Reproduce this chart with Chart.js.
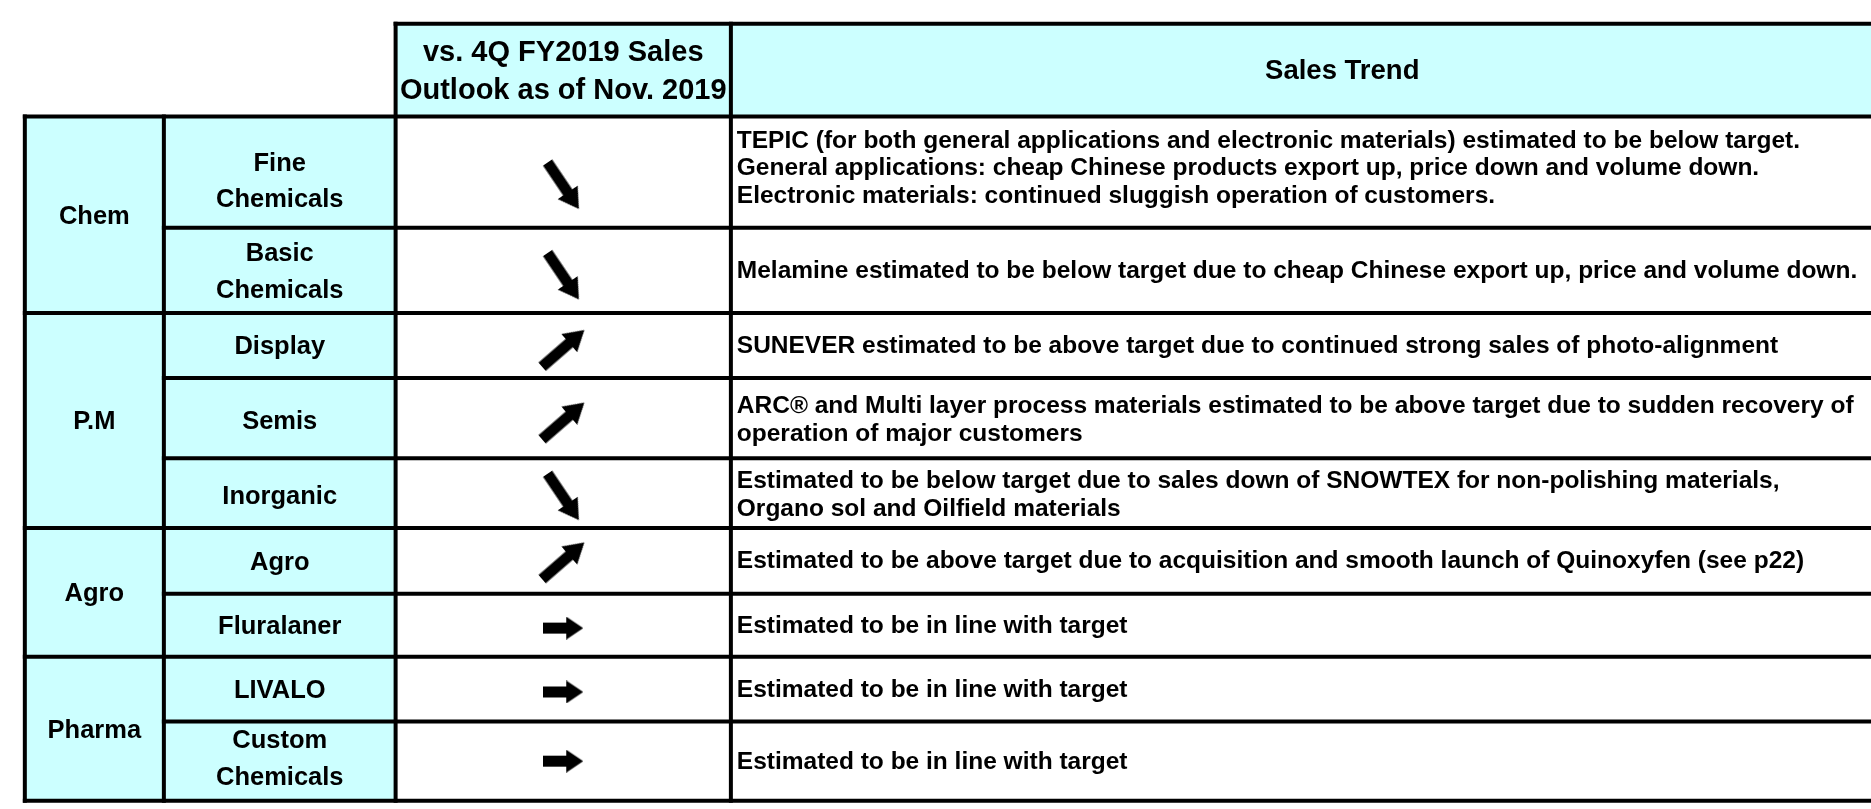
<!DOCTYPE html>
<html><head><meta charset="utf-8">
<script src="https://cdn.jsdelivr.net/npm/chart.js@4.4.0/dist/chart.umd.min.js"></script>
<style>html,body{margin:0;padding:0;background:#fff;overflow:hidden}canvas{display:block}</style>
</head><body>
<canvas id="c" width="1871" height="809"></canvas>
<script>
// ---------------- data ----------------
const groups = ['Chem', 'P.M', 'Agro', 'Pharma'];
const groupSizes = [2, 3, 2, 2];
const segments = ['Fine\nChemicals', 'Basic\nChemicals', 'Display', 'Semis', 'Inorganic', 'Agro', 'Fluralaner', 'LIVALO', 'Custom\nChemicals'];
const outlook = ['down', 'down', 'up', 'up', 'down', 'up', 'flat', 'flat', 'flat'];
const trendText = [
  'TEPIC (for both general applications and electronic materials) estimated to be below target.\nGeneral applications: cheap Chinese products export up, price down and volume down.\nElectronic materials: continued sluggish operation of customers.',
  'Melamine estimated to be below target due to cheap Chinese export up, price and volume down.',
  'SUNEVER estimated to be above target due to continued strong sales of photo-alignment',
  'ARC\u00AE and Multi layer process materials estimated to be above target due to sudden recovery of\noperation of major customers',
  'Estimated to be below target due to sales down of SNOWTEX for non-polishing materials,\nOrgano sol and Oilfield materials',
  'Estimated to be above target due to acquisition and smooth launch of Quinoxyfen (see p22)',
  'Estimated to be in line with target',
  'Estimated to be in line with target',
  'Estimated to be in line with target'
];
const headerOutlook = 'vs. 4Q FY2019 Sales\nOutlook as of Nov. 2019';
const headerTrend = 'Sales Trend';

// ---------------- layout (positions / styles) ----------------
const W = 1871, H = 809;
const colEdges = [12, 153, 388, 728, 1968];
const headerTop = 11;
const rowEdges = [107, 222, 310, 377, 460, 532, 600, 665, 732, 814];
const arrowNudge = [14, 6, 3, 3, 4, 0, 3, 3, 0];
const labelNudge = [8, 0, 0, 2, 2, 0, 0, 0, -4];
const textNudge = [-4, 1, 1, 2, 2, 0, 1, 1, 1];
const CYAN = '#CCFFFF';
const FONT = '"Liberation Sans", Arial, Helvetica, sans-serif';
const bodySize = 24.5, labelSize = 25.5, headSize = 29, trendHeadSize = 27.5, lineW = 4;

// arrow glyph canvases (styles)
function makeArrow(len, shaft, headW, headLen) {
  const c = document.createElement('canvas');
  c.width = len; c.height = headW;
  const g = c.getContext('2d');
  const m = headW / 2;
  g.fillStyle = '#000';
  g.beginPath();
  g.moveTo(0, m - shaft / 2);
  g.lineTo(len - headLen, m - shaft / 2);
  g.lineTo(len - headLen, 0);
  g.lineTo(len, m);
  g.lineTo(len - headLen, headW);
  g.lineTo(len - headLen, m + shaft / 2);
  g.lineTo(0, m + shaft / 2);
  g.closePath();
  g.fill();
  return c;
}
const diagArrow = makeArrow(56, 11, 24, 20);
const flatArrow = makeArrow(40, 11, 23, 17);
const arrowRotation = {down: 56, up: -41, flat: 0};

const rowCenter = i => (rowEdges[i] + rowEdges[i + 1]) / 2;
const colCenter = j => (colEdges[j] + colEdges[j + 1]) / 2;

const tablePlugin = {
  id: 'tablePlugin',
  beforeDatasetsDraw(chart) {
    const ctx = chart.ctx;
    const xs = chart.scales.x, ys = chart.scales.y;
    const X = v => xs.getPixelForValue(v);
    const Y = v => ys.getPixelForValue(v);
    const last = rowEdges.length - 1;
    ctx.save();
    // fills
    ctx.fillStyle = CYAN;
    ctx.fillRect(X(colEdges[2]), Y(headerTop), X(colEdges[4]) - X(colEdges[2]), Y(rowEdges[0]) - Y(headerTop));
    ctx.fillRect(X(colEdges[0]), Y(rowEdges[0]), X(colEdges[2]) - X(colEdges[0]), Y(rowEdges[last]) - Y(rowEdges[0]));
    ctx.fillStyle = '#FFFFFF';
    ctx.fillRect(X(colEdges[2]), Y(rowEdges[0]), X(colEdges[4]) - X(colEdges[2]), Y(rowEdges[last]) - Y(rowEdges[0]));

    // text
    ctx.fillStyle = '#000';
    ctx.textBaseline = 'middle';
    function lines(txt, x, yc, spacing, align) {
      const ls = txt.split('\n');
      ctx.textAlign = align;
      ls.forEach((l, k) => {
        ctx.fillText(l, x, Y(yc + (k - (ls.length - 1) / 2) * spacing));
      });
    }
    const hc = (headerTop + rowEdges[0]) / 2;
    ctx.font = 'bold ' + headSize + 'px ' + FONT;
    lines(headerOutlook, X(colCenter(2)), hc + 2, 40, 'center');
    ctx.font = 'bold ' + trendHeadSize + 'px ' + FONT;
    lines(headerTrend, X(colCenter(3)), hc + 1, 36, 'center');
    ctx.font = 'bold ' + labelSize + 'px ' + FONT;
    // groups
    let r = 0;
    groups.forEach((g, gi) => {
      const top = rowEdges[r], bot = rowEdges[r + groupSizes[gi]];
      lines(g, X(colCenter(0)), (top + bot) / 2 + 2, 34, 'center');
      r += groupSizes[gi];
    });
    segments.forEach((s, i) => lines(s, X(colCenter(1)), rowCenter(i) + 2 + labelNudge[i], 38, 'center'));
    ctx.font = 'bold ' + bodySize + 'px ' + FONT;
    trendText.forEach((t, i) => lines(t, X(colEdges[3] + 6), rowCenter(i) + textNudge[i], 28.5, 'left'));

    // grid lines
    ctx.strokeStyle = '#000';
    ctx.lineWidth = lineW;
    ctx.lineCap = 'square';
    function hl(y, x0, x1) { ctx.beginPath(); ctx.moveTo(X(x0), Y(y)); ctx.lineTo(X(x1), Y(y)); ctx.stroke(); }
    function vl(x, y0, y1) { ctx.beginPath(); ctx.moveTo(X(x), Y(y0)); ctx.lineTo(X(x), Y(y1)); ctx.stroke(); }
    hl(headerTop, colEdges[2], colEdges[4]);
    hl(rowEdges[0], colEdges[0], colEdges[4]);
    const groupEnds = new Set();
    let acc = 0; groupSizes.forEach(n => { acc += n; groupEnds.add(acc); });
    for (let i = 1; i < last; i++) {
      hl(rowEdges[i], groupEnds.has(i) ? colEdges[0] : colEdges[1], colEdges[4]);
    }
    hl(rowEdges[last], colEdges[0], colEdges[4]);
    vl(colEdges[0], rowEdges[0], rowEdges[last]);
    vl(colEdges[1], rowEdges[0], rowEdges[last]);
    vl(colEdges[2], headerTop, rowEdges[last]);
    vl(colEdges[3], headerTop, rowEdges[last]);
    ctx.restore();
  }
};

new Chart(document.getElementById('c'), {
  type: 'scatter',
  data: {
    datasets: [{
      label: 'Outlook',
      data: outlook.map((o, i) => ({x: colCenter(2), y: rowCenter(i) + arrowNudge[i]})),
      pointStyle: c => outlook[c.dataIndex] === 'flat' ? flatArrow : diagArrow,
      rotation: c => arrowRotation[outlook[c.dataIndex]],
      pointRadius: 12,
      pointHoverRadius: 12
    }]
  },
  options: {
    responsive: false,
    animation: false,
    events: [],
    layout: {padding: 0},
    scales: {
      x: {type: 'linear', min: 0, max: W, display: false},
      y: {type: 'linear', min: 0, max: H, reverse: true, display: false}
    },
    plugins: {legend: {display: false}, tooltip: {enabled: false}}
  },
  plugins: [tablePlugin]
});
</script>
</body></html>
